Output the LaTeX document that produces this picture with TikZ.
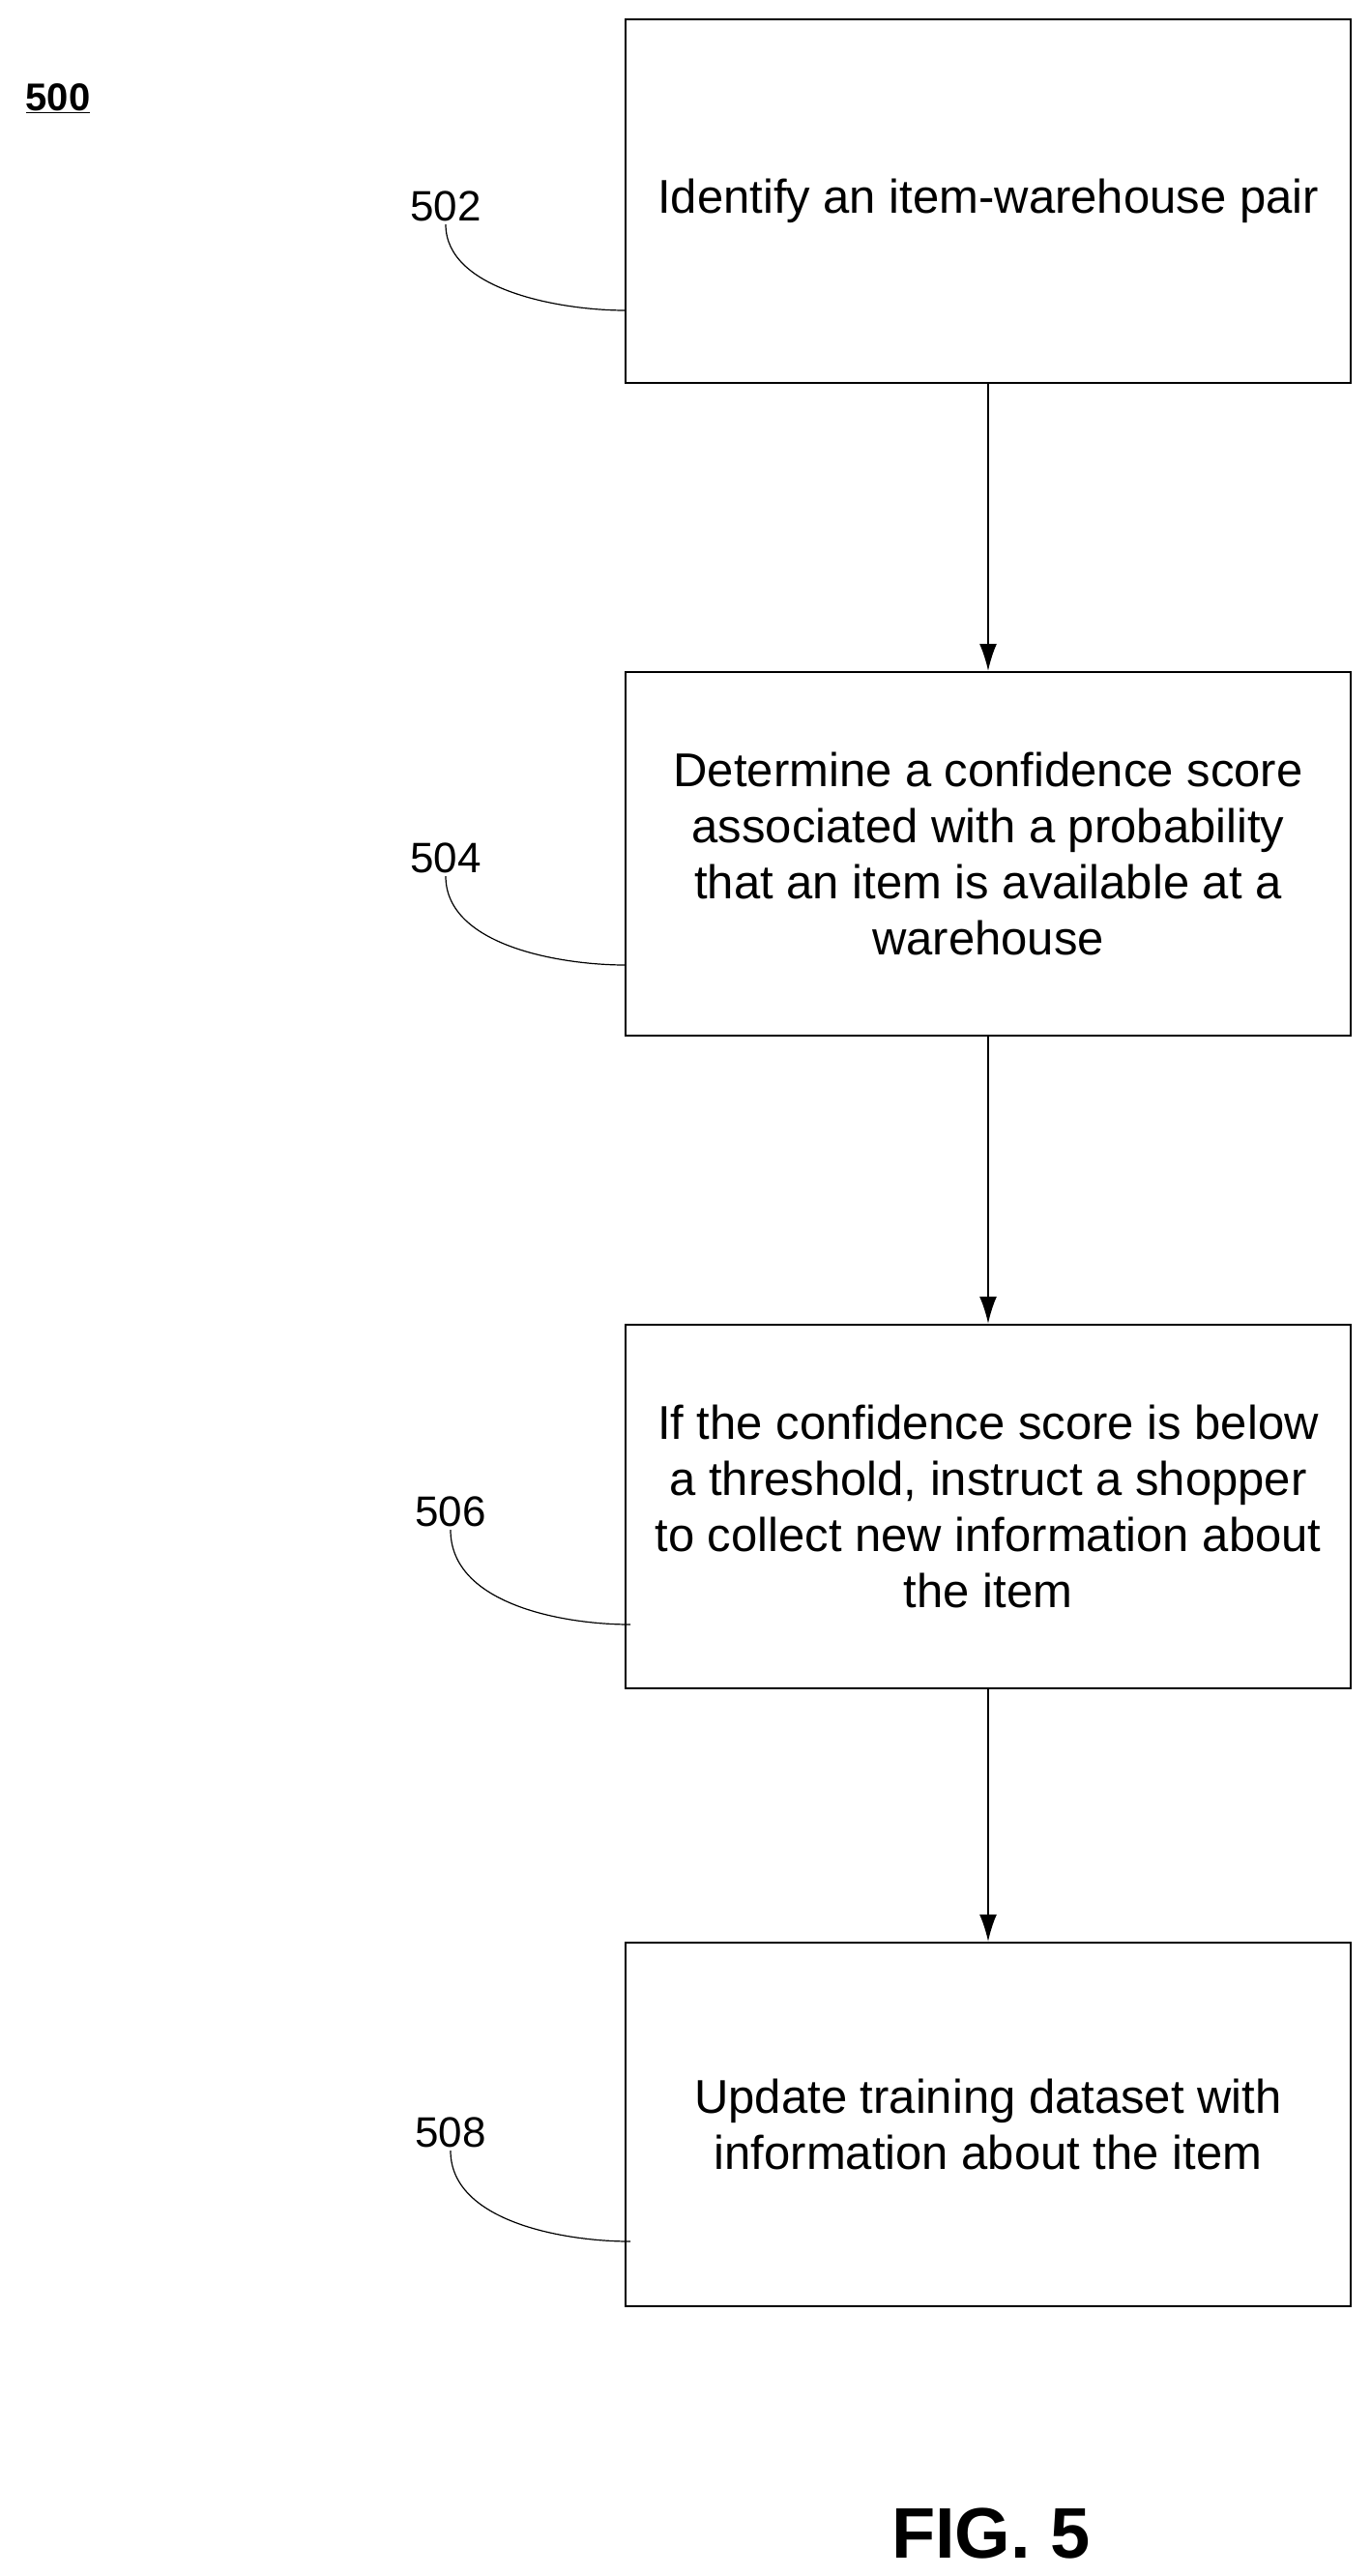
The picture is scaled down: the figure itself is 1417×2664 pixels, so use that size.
\documentclass[tikz,border=0pt]{standalone}
\usepackage{fontspec}
\setmainfont{Liberation Sans}
\usetikzlibrary{arrows.meta}
\begin{document}
\begin{tikzpicture}[x=1pt,y=-1pt,
 box/.style={draw,line width=2.5pt,minimum width=750pt,minimum height=376pt,align=center,font=\fontsize{49}{58}\selectfont,inner sep=0pt},
 lbl/.style={font=\fontsize{44}{48}\selectfont},
 arr/.style={-{Latex[length=28pt,width=18pt]},line width=1.5pt},
 lead/.style={line width=1.2pt}]
\useasboundingbox (0,0) rectangle (1417,2664);
\node[box] (b1) at (1022,208) {Identify an item-warehouse pair};
\node[box] (b2) at (1022,883) {Determine a confidence score\\associated with a probability\\that an item is available at a\\warehouse};
\node[box] (b3) at (1022,1558) {If the confidence score is below\\a threshold, instruct a shopper\\to collect new information about\\the item};
\node[box] (b4) at (1022,2197) {Update training dataset with\\information about the item};
\draw[arr] (b1.south) -- (b2.north);
\draw[arr] (b2.south) -- (b3.north);
\draw[arr] (b3.south) -- (b4.north);
\node[lbl] (l1) at (461,213) {502};
\node[lbl] (l2) at (461,887) {504};
\node[lbl] (l3) at (466,1563) {506};
\node[lbl] (l4) at (466,2205) {508};
\coordinate (e1) at (647,321); \coordinate (e2) at (647,998);
\coordinate (e3) at (652,1680); \coordinate (e4) at (652,2318);
\draw[lead] (l1.south) .. controls (461,300) and (580,321) .. (e1);
\draw[lead] (l2.south) .. controls (461,978) and (580,998) .. (e2);
\draw[lead] (l3.south) .. controls (466,1660) and (585,1680) .. (e3);
\draw[lead] (l4.south) .. controls (466,2298) and (585,2318) .. (e4);
\node[font=\fontsize{40}{48}\selectfont\bfseries] (n500) at (60,102) {\underline{500}};
\node[font=\fontsize{74}{86}\selectfont\bfseries] (fig) at (1025,2620) {FIG. 5};
\end{tikzpicture}
\end{document}
